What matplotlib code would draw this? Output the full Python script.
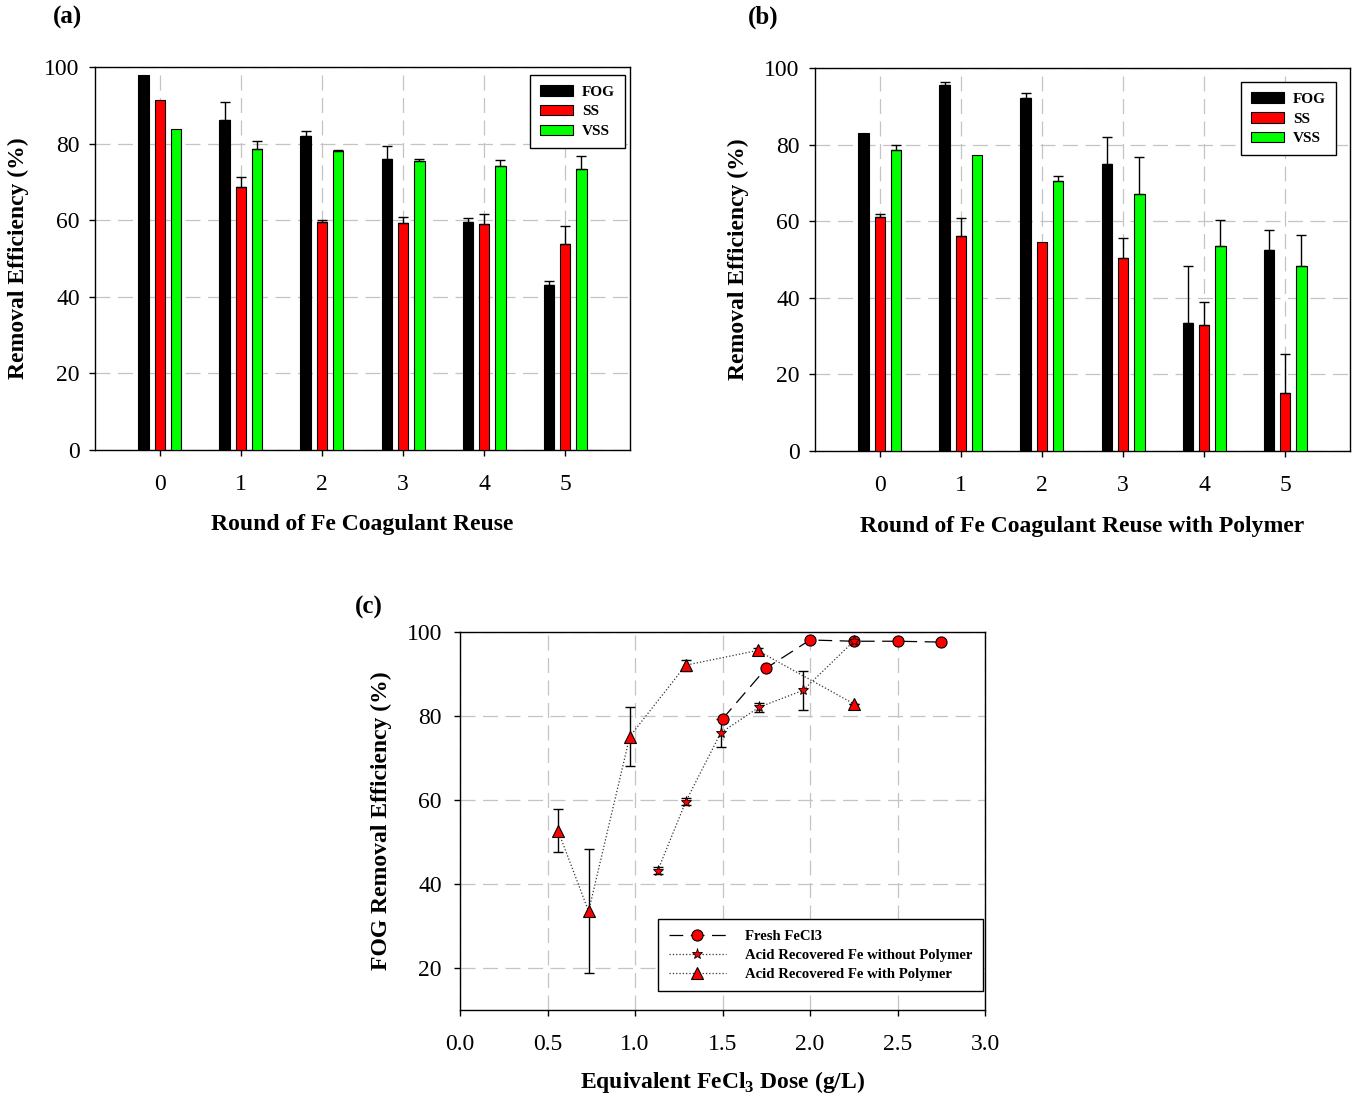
import numpy as np
import matplotlib
matplotlib.use('Agg')
import matplotlib.pyplot as plt

plt.rcParams['font.family'] = ['Liberation Serif', 'DejaVu Serif']

# ---------------- data ----------------
rounds = [0, 1, 2, 3, 4, 5]
round_labels = ['0', '1', '2', '3', '4', '5']
series_names = ['FOG', 'SS', 'VSS']
series_colors = ['#000000', '#ff0000', '#00ff00']

# (a) Fe coagulant reuse
a_fog = [97.8, 86.1, 82.1, 76.0, 59.6, 43.2]
a_fog_err = [0, 4.7, 1.1, 3.3, 0.9, 0.9]
a_ss = [91.4, 68.6, 59.4, 59.2, 59.0, 53.7]
a_ss_err = [0, 2.8, 0.6, 1.6, 2.5, 4.7]
a_vss = [83.8, 78.6, 78.0, 75.5, 74.2, 73.3]
a_vss_err = [0, 2.1, 0.3, 0.4, 1.4, 3.4]

# (b) Fe coagulant reuse with polymer
b_fog = [82.9, 95.6, 92.1, 75.0, 33.5, 52.5]
b_fog_err = [0, 0.7, 1.3, 7.0, 14.8, 5.1]
b_ss = [61.2, 56.2, 54.6, 50.5, 32.9, 15.2]
b_ss_err = [0.7, 4.7, 0, 5.0, 6.0, 10.0]
b_vss = [78.6, 77.4, 70.5, 67.2, 53.4, 48.2]
b_vss_err = [1.4, 0, 1.3, 9.6, 6.8, 8.3]

# (c) FOG removal vs equivalent FeCl3 dose
fresh_dose = [1.5, 1.75, 2.0, 2.25, 2.5, 2.75]
fresh_fog = [79.3, 91.4, 98.1, 97.8, 97.8, 97.6]

nopoly_dose = [1.13, 1.29, 1.49, 1.71, 1.96, 2.25]
nopoly_fog = [43.2, 59.6, 76.0, 82.1, 86.1, 97.8]
nopoly_err = [0.9, 0.9, 3.3, 1.1, 4.7, 0.0]

poly_dose = [0.56, 0.735, 0.97, 1.29, 1.70, 2.25]
poly_fog = [52.7, 33.5, 75.1, 92.1, 95.6, 82.9]
poly_err = [5.1, 14.8, 7.0, 1.3, 0.7, 0.0]

# ---------------- figure ----------------
W, H = 1357, 1096
fig = plt.figure(figsize=(W / 100, H / 100), dpi=100)
fig.patch.set_facecolor('white')

axA = fig.add_axes([95 / W, 1 - 450 / H, 535 / W, 383 / H])
axB = fig.add_axes([815 / W, 1 - 451 / H, 535 / W, 383 / H])
axC = fig.add_axes([460 / W, 1 - 1010 / H, 525 / W, 378 / H])

grid_kw = dict(color='#c4c4c4', linestyle=(0, (12, 6)), linewidth=0.9)
TICK_FS = 17
LABEL_FS = 17


def style_axes(ax, xpad, ypad):
    for s in ax.spines.values():
        s.set_linewidth(1.0)
        s.set_color('black')
    ax.tick_params(direction='out', length=4, width=1.0, labelsize=TICK_FS,
                   top=False, right=False)
    ax.tick_params(axis='x', pad=xpad)
    ax.tick_params(axis='y', pad=ypad)
    ax.grid(True, **grid_kw)
    ax.set_axisbelow(True)


def bar_panel(ax, vals, errs, xlabel, anchor, xlab_y):
    offsets = [-0.2, 0.0, 0.2]
    x = np.array(rounds, dtype=float)
    for k in range(3):
        v = np.array(vals[k])
        e = np.array(errs[k])
        ax.bar(x + offsets[k], v, width=0.13, color=series_colors[k],
               edgecolor='black', linewidth=0.8, label=series_names[k], zorder=3)
        m = e > 0
        ax.errorbar((x + offsets[k])[m], v[m], yerr=[np.zeros(m.sum()), e[m]],
                    fmt='none', ecolor='black', elinewidth=1.0, capsize=3.8,
                    capthick=1.0, zorder=4)
    ax.set_xlim(-0.8, 5.8)
    ax.set_ylim(0, 100)
    ax.set_xticks(rounds)
    ax.set_xticklabels(round_labels)
    ax.set_yticks([0, 20, 40, 60, 80, 100])
    style_axes(ax, 13, 7)
    ax.set_ylabel('Removal Efficiency (%)', fontsize=LABEL_FS, fontweight='bold', va='center')
    ax.yaxis.set_label_coords(-0.143, 0.5)
    ax.set_xlabel(xlabel, fontsize=LABEL_FS, fontweight='bold', va='center')
    ax.xaxis.set_label_coords(0.5, xlab_y)
    leg = ax.legend(loc='upper right', bbox_to_anchor=anchor, borderaxespad=0,
                    fancybox=False, edgecolor='black', framealpha=1,
                    prop={'weight': 'bold', 'size': 11},
                    handlelength=2.15, handleheight=0.7, handletextpad=0.6,
                    labelspacing=0.4, borderpad=0.65)
    leg.get_frame().set_linewidth(1.0)


bar_panel(axA, [a_fog, a_ss, a_vss], [a_fog_err, a_ss_err, a_vss_err],
          'Round of Fe Coagulant Reuse', (0.9907, 0.979), -0.195)
bar_panel(axB, [b_fog, b_ss, b_vss], [b_fog_err, b_ss_err, b_vss_err],
          'Round of Fe Coagulant Reuse with Polymer', (0.974, 0.963), -0.198)

# ---------------- panel (c) ----------------
ax = axC
ax.plot(fresh_dose, fresh_fog, color='black', linestyle=(0, (11, 6)), linewidth=0.9,
        marker='o', markersize=8, markerfacecolor='#ff0000', markeredgecolor='black',
        markeredgewidth=0.8, label='Fresh FeCl3', zorder=3)
ax.errorbar(nopoly_dose, nopoly_fog, yerr=nopoly_err, fmt='none', ecolor='black',
            elinewidth=1.0, capsize=3.8, capthick=1.0, zorder=2)
ax.plot(nopoly_dose, nopoly_fog, color='#333333', linestyle=':', linewidth=0.9,
        marker='*', markersize=8, markerfacecolor='#ff0000', markeredgecolor='black',
        markeredgewidth=0.6, label='Acid Recovered Fe without Polymer', zorder=4)
ax.errorbar(poly_dose, poly_fog, yerr=poly_err, fmt='none', ecolor='black',
            elinewidth=1.0, capsize=3.8, capthick=1.0, zorder=2)
ax.plot(poly_dose, poly_fog, color='#333333', linestyle=':', linewidth=0.9,
        marker='^', markersize=8.5, markerfacecolor='#ff0000', markeredgecolor='black',
        markeredgewidth=0.8, label='Acid Recovered Fe with Polymer', zorder=4)

ax.set_xlim(0, 3.0)
ax.set_ylim(10, 100)
ax.set_xticks([0.0, 0.5, 1.0, 1.5, 2.0, 2.5, 3.0])
ax.set_xticklabels(['0.0', '0.5', '1.0', '1.5', '2.0', '2.5', '3.0'])
ax.set_yticks([20, 40, 60, 80, 100])
style_axes(ax, 13, 9)
ax.set_ylabel('FOG Removal Efficiency (%)', fontsize=LABEL_FS, fontweight='bold', va='center')
ax.yaxis.set_label_coords(-0.150, 0.5)
ax.set_xlabel(r'Equivalent FeCl$_\mathregular{3}$ Dose (g/L)', fontsize=LABEL_FS,
              fontweight='bold', va='center')
ax.xaxis.set_label_coords(0.5, -0.19)
leg = ax.legend(loc='lower right', bbox_to_anchor=(0.996, 0.05), borderaxespad=0,
                fancybox=False, edgecolor='black', framealpha=1, numpoints=1,
                prop={'weight': 'bold', 'size': 10.6},
                handlelength=3.9, handletextpad=1.3, labelspacing=0.38, borderpad=0.7)
leg.get_frame().set_linewidth(1.0)

# panel labels
fig.text(68 / W, 1 - 17 / H, '(a)', ha='center', va='center', fontsize=18, fontweight='bold')
fig.text(763 / W, 1 - 17 / H, '(b)', ha='center', va='center', fontsize=18, fontweight='bold')
fig.text(369 / W, 1 - 607 / H, '(c)', ha='center', va='center', fontsize=18, fontweight='bold')

fig.savefig('out.png', dpi=100)
